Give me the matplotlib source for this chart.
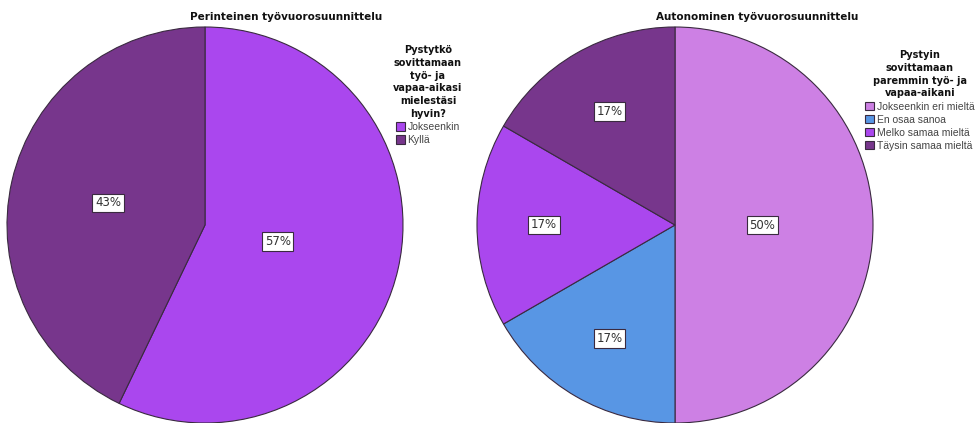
import numpy as np
import matplotlib
matplotlib.use("Agg")
import matplotlib.pyplot as plt

plt.rcParams['font.family'] = ['DejaVu Sans']

# Traditional scheduling: respondent counts per answer
left_title = "Perinteinen työvuorosuunnittelu"
left_legend_title = "Pystytkö\nsovittamaan\ntyö- ja\nvapaa-aikasi\nmielestäsi\nhyvin?"
left_categories = ["Jokseenkin", "Kyllä"]
left_counts = [4, 3]
left_colors = ["#AA47EE", "#77368C"]

# Autonomous scheduling: respondent counts per answer
right_title = "Autonominen työvuorosuunnittelu"
right_legend_title = "Pystyin\nsovittamaan\nparemmin työ- ja\nvapaa-aikani"
right_categories = ["Jokseenkin eri mieltä", "En osaa sanoa",
                    "Melko samaa mieltä", "Täysin samaa mieltä"]
right_counts = [3, 1, 1, 1]
right_colors = ["#CD80E4", "#5896E4", "#AA47EE", "#77368C"]

W, H = 976, 423
fig = plt.figure(figsize=(W / 100, H / 100), dpi=100)


def draw_pie(cx, cy, r, counts, colors, categories, title, title_x,
             legend_title, legend_anchor):
    ax = fig.add_axes([(cx - r) / W, (H - cy - r) / H, 2 * r / W, 2 * r / H])
    wedges, _ = ax.pie(counts, colors=colors, startangle=90, counterclock=False,
                       radius=1.0,
                       wedgeprops=dict(edgecolor="#3a2a40", linewidth=0.8))
    ax.set_xlim(-1, 1)
    ax.set_ylim(-1, 1)
    ax.set_aspect("equal")
    ax.axis("off")
    total = sum(counts)
    # percentage labels placed near each wedge's centroid
    for w, c in zip(wedges, counts):
        t1, t2 = np.deg2rad(w.theta1), np.deg2rad(w.theta2)
        half = (t2 - t1) / 2
        mid = (t1 + t2) / 2
        d = 1.04 * 2 * np.sin(half) / (3 * half)
        ax.text(d * np.cos(mid), d * np.sin(mid), f"{round(100 * c / total)}%",
                ha="center", va="center", fontsize=8.5, color="#333333",
                bbox=dict(boxstyle="square,pad=0.22", facecolor="white",
                          edgecolor="#3a2a40", linewidth=0.8))
    fig.text(title_x / W, 1 - 17 / H, title, ha="center", va="center",
             fontsize=7.5, fontweight="bold", color="#111111")
    leg = fig.legend(wedges, categories, title=legend_title,
                     loc="upper center",
                     bbox_to_anchor=(legend_anchor[0] / W, 1 - legend_anchor[1] / H),
                     frameon=False, alignment="center",
                     prop=dict(family="Liberation Sans", size=7.5),
                     handlelength=0.85, handleheight=0.85, handletextpad=0.25,
                     labelspacing=0.3, borderpad=0, borderaxespad=0,
                     title_fontproperties=dict(weight="bold", size=7))
    leg.get_title().set_multialignment("center")
    leg.get_title().set_linespacing(1.35)
    leg.get_title().set_color("#111111")
    for t in leg.get_texts():
        t.set_color("#444444")
    return ax


draw_pie(205, 225, 198, left_counts, left_colors, left_categories,
         left_title, 286, left_legend_title, (428, 45))
draw_pie(675, 225, 198, right_counts, right_colors, right_categories,
         right_title, 757, right_legend_title, (920, 50))

fig.savefig("out.png", dpi=100, facecolor="white")
